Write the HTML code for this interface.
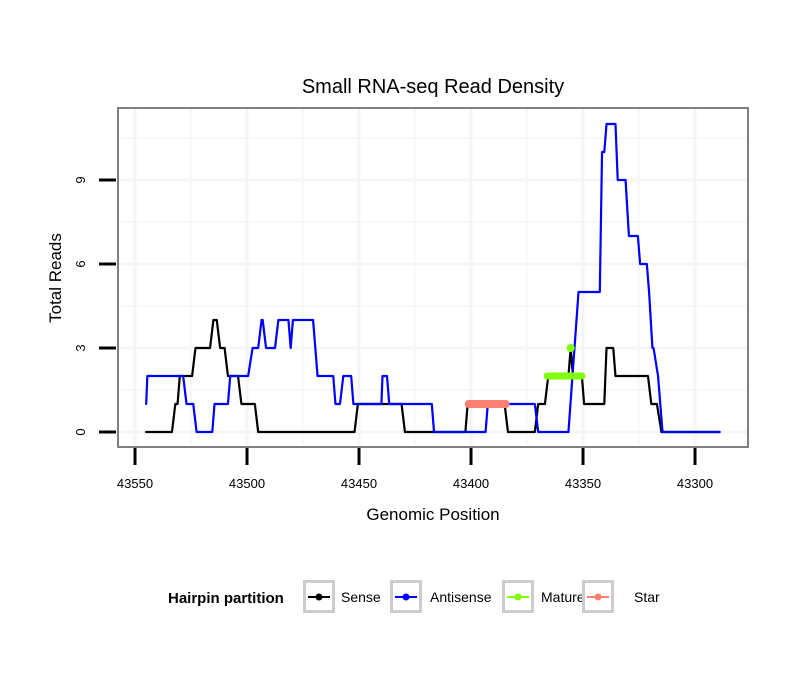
<!DOCTYPE html>
<html><head><meta charset="utf-8"><style>
body{margin:0;background:#fff;font-family:"Liberation Sans",sans-serif;}
</style></head><body>
<svg id="chart" width="810" height="690" xmlns="http://www.w3.org/2000/svg" font-family="Liberation Sans, sans-serif">
<rect width="810" height="690" fill="#fff"/>
<text x="433" y="93" text-anchor="middle" font-size="20">Small RNA-seq Read Density</text>
<g id="grid"></g>
<g id="series"></g>
<rect x="118" y="108" width="630" height="339" fill="none" stroke="#808080" stroke-width="2"/>
<g id="axes"></g>
<text x="433" y="520" text-anchor="middle" font-size="17">Genomic Position</text>
<text transform="translate(61,278) rotate(-90)" text-anchor="middle" font-size="17">Total Reads</text>
<g id="legend">
<text x="168" y="603" font-size="15" font-weight="bold">Hairpin partition</text>
</g>
</svg>
<script>
const xTicks=[43550,43500,43450,43400,43350,43300];
const yTicks=[0,3,6,9];
const senseData=[[43545,0],[43533.5,0],[43532,1],[43531,1],[43530,2],[43524.5,2],[43523,3],[43516.5,3],[43515,4],[43513.5,4],[43512,3],[43510,3],[43508.5,2],[43504,2],[43502.5,1],[43496.5,1],[43495,0],[43452,0],[43450.5,1],[43431,1],[43429.5,0],[43402.5,0],[43401.5,1],[43385,1],[43383.5,0],[43371.5,0],[43370,1],[43367,1],[43365.5,2],[43356.5,2],[43355.5,3],[43354.5,2],[43350.5,2],[43349.5,1],[43340.5,1],[43339.5,3],[43336.5,3],[43335.5,2],[43321,2],[43319.5,1],[43317,1],[43315,0],[43289,0]];
const antisenseData=[[43545,1],[43544.5,2],[43528.5,2],[43527,1],[43524,1],[43522.5,0],[43515.5,0],[43514.5,1],[43508.5,1],[43507.5,2],[43499.5,2],[43497.5,3],[43495,3],[43493.5,4],[43493,4],[43491.5,3],[43487.5,3],[43486,4],[43481.5,4],[43480.5,3],[43479.5,4],[43470.5,4],[43468.5,2],[43461.5,2],[43460.5,1],[43458.5,1],[43457,2],[43453.5,2],[43452.5,1],[43440,1],[43439.5,2],[43437.5,2],[43436.5,1],[43417.5,1],[43416.5,0],[43393.5,0],[43392.5,1],[43371.5,1],[43370,0],[43356.5,0],[43352,5],[43342.5,5],[43341.5,10],[43340.5,10],[43339.5,11],[43335.5,11],[43334.5,9],[43331,9],[43329.5,7],[43325.5,7],[43324.5,6],[43321.5,6],[43320.5,5],[43319,3],[43318.5,3],[43316.5,2],[43314.5,0],[43289,0]];
const matureData=[[43366,2],[43364,2],[43362,2],[43360,2],[43358,2],[43356,2],[43354,2],[43352,2],[43350.5,2]];
const maturePeak=[[43355.5,3]];
const starData=[[43401,1],[43398,1],[43395,1],[43392,1],[43389,1],[43386,1],[43384.5,1]];
const legendLabels=["Sense","Antisense","Mature","Star"];
const legendColors=["#000000","#0000ff","#7fff00","#fa8072"];
const legendBoxX=[303,390,502,582];
const legendTextX=[341,430,541,634];

const NS="http://www.w3.org/2000/svg";
const X=v=>135+(43550-v)*2.24;
const Y=v=>432-v*28;
function mk(tag,attrs,parent){const e=document.createElementNS(NS,tag);for(const k in attrs)e.setAttribute(k,attrs[k]);parent.appendChild(e);return e;}
const grid=document.getElementById('grid'),axes=document.getElementById('axes'),series=document.getElementById('series'),legend=document.getElementById('legend');
for(let v=43575;v>=43275;v-=25){const x=X(v);if(x<118||x>748)continue;
 const l=mk('line',{x1:x,x2:x,y1:109,y2:446,stroke:'#f5f5f5','stroke-width':v%50===0?3:1.5},grid);
 
 }
for(let v=-1.5;v<=12;v+=1.5){const y=Y(v);if(y<109||y>446)continue;
 const l=mk('line',{x1:119,x2:747,y1:y,y2:y,stroke:'#f5f5f5','stroke-width':v%3===0?3:1.5},grid);
 
 }
xTicks.forEach(v=>{const x=X(v);
 const t=mk('line',{x1:x,x2:x,y1:448,y2:465,stroke:'#000','stroke-width':3},axes);
 
 
 const s=mk('text',{x:x,y:488,'text-anchor':'middle','font-size':13},axes);s.textContent=v;
 
 });
yTicks.forEach(v=>{const y=Y(v);
 const t=mk('line',{x1:99,x2:116,y1:y,y2:y,stroke:'#000','stroke-width':3},axes);
 
 
 const s=mk('text',{transform:`translate(85,${y}) rotate(-90)`,'text-anchor':'middle','font-size':13},axes);s.textContent=v;
 
 });
function line(data,color,w,name){const p=mk('polyline',{points:data.map(d=>X(d[0])+','+Y(d[1])).join(' '),fill:'none',stroke:color,'stroke-width':w,'stroke-linejoin':'round','stroke-linecap':'round'},series);
 
 }
line(senseData,'#000',2.2,'sense-line');
line(antisenseData,'#0000ff',2.2,'antisense-line');
line(starData,'#fa8072',8,'star-line');
line(matureData,'#7fff00',7,'mature-line');
maturePeak.forEach(d=>{const c=mk('circle',{cx:X(d[0]),cy:Y(d[1]),r:4,fill:'#7fff00'},series);
 
 });
legendLabels.forEach((lab,i)=>{const bx=legendBoxX[i];
 const r=mk('rect',{x:bx+1.5,y:581.5,width:29,height:30,fill:'#fff',stroke:'#cccccc','stroke-width':3},legend);
 
 
 mk('line',{x1:bx+5,x2:bx+27,y1:597,y2:597,stroke:legendColors[i],'stroke-width':2},legend);
 mk('circle',{cx:bx+16,cy:597,r:3.5,fill:legendColors[i]},legend);
 const t=mk('text',{x:legendTextX[i],y:602,'font-size':14},legend);t.textContent=lab;
 
 });
</script>
</body></html>
